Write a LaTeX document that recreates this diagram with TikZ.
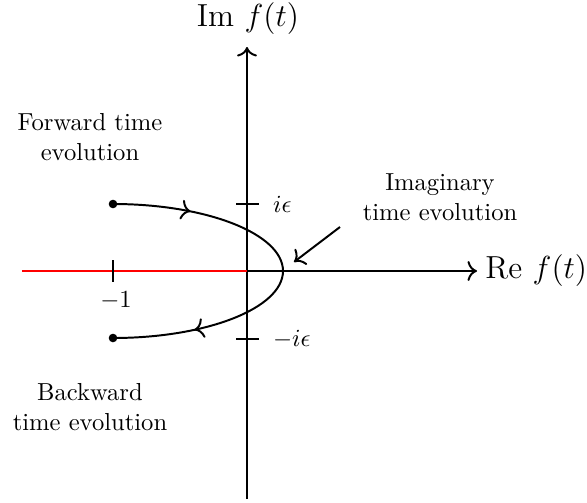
\documentclass[tikz,border=0pt]{standalone}
\usepackage{graphicx}
\usetikzlibrary{decorations.markings,arrows.meta}
\newcommand{\axtext}[1]{\scalebox{1.08}{\large #1}}
\begin{document}
\begin{tikzpicture}[x=0.4065pt,y=0.4065pt,
  tip/.style={-{To[scale=1.15]}},
  axis/.style={thick,tip},
  tickmark/.style={thick},
  contour/.style={thick},
  lbl/.style={align=center,font=\normalsize},
  axlbl/.style={inner sep=0pt},
  dot/.style={circle,fill=black,inner sep=0pt,minimum size=3.5pt}]
\useasboundingbox (-247,-231) rectangle (340,271);
% coordinates
\coordinate (O) at (0,0);
\coordinate (ytop) at (0,224);
\coordinate (ybot) at (0,-228);
\coordinate (xend) at (230,0);
\coordinate (rstart) at (-225,0);
% axes
\draw[axis] (ybot) -- (ytop);
\node[axlbl] (imlab) at (1,252) {\axtext{$\mathrm{Im}\ f(t)$}};
\draw[axis] (O) -- (xend);
\node[axlbl,anchor=west] (relab) at (238,0) {\axtext{$\mathrm{Re}\ f(t)$}};
\draw[red,thick] (rstart) -- (O);
% ticks
\coordinate (t1a) at (-134,11); \coordinate (t1b) at (-134,-11);
\draw[tickmark] (t1a) -- (t1b);
\node (m1) at (-131,-30) {$-1$};
\coordinate (tea) at (-11,67); \coordinate (teb) at (12,67);
\draw[tickmark] (tea) -- (teb) node[right=2pt] (ie) {$i\epsilon$};
\coordinate (tma) at (-11,-68); \coordinate (tmb) at (12,-68);
\draw[tickmark] (tma) -- (tmb) node[right=2pt] (mie) {$-i\epsilon$};
% contour
\node[dot] (d1) at (-134,67) {};
\node[dot] (d2) at (-134,-67) {};
\draw[contour,
  decoration={markings,
    mark=at position 0.20 with {\arrow{To[scale=1.15]}},
    mark=at position 0.79 with {\arrow{To[scale=1.15]}}},
  postaction={decorate}]
  (d1.center) arc[start angle=90,end angle=-90,x radius=170,y radius=67];
% labels
\node[lbl] (fwd) at (-157,134) {Forward time\\evolution};
\node[lbl] (bwd) at (-157,-136) {Backward\\time evolution};
\node[lbl] (img) at (193,74) {Imaginary\\time evolution};
\coordinate (as) at (93,44);
\coordinate (ae) at (47,9);
\draw[thick,tip] (as) -- (ae);
\end{tikzpicture}
\end{document}
